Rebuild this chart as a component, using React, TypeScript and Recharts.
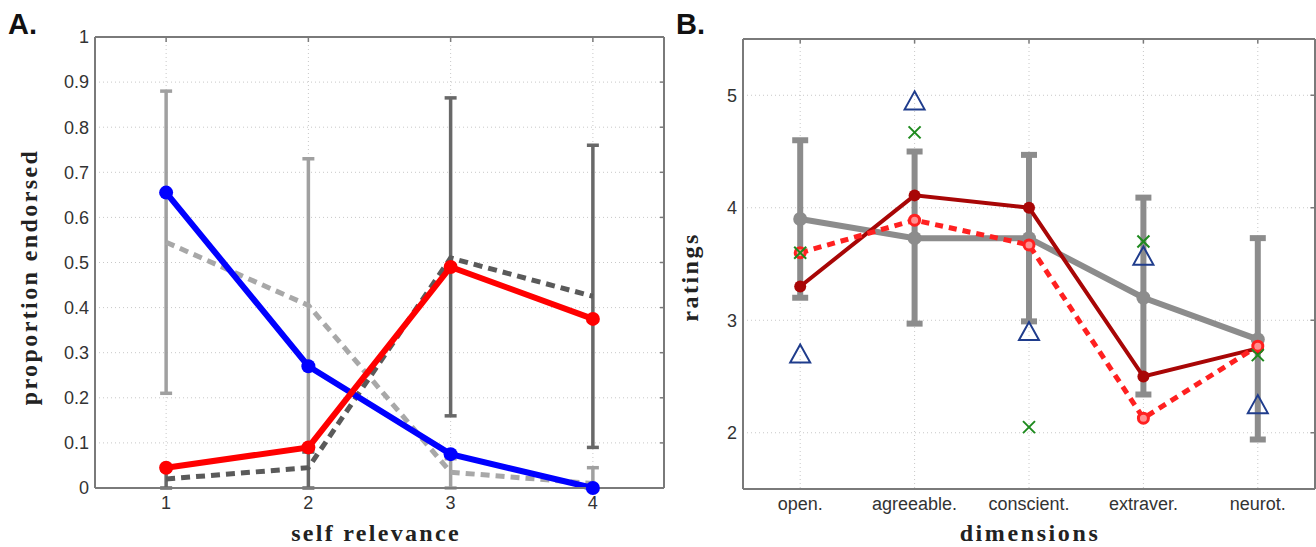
import React from 'react';
import { ComposedChart, Line, XAxis, YAxis, CartesianGrid, ErrorBar, ReferenceLine } from 'recharts';

// panel A: proportion endorsed by self relevance
const relevance = [1, 2, 3, 4];
const blueVals = [0.655, 0.27, 0.075, 0.0];
const redVals = [0.045, 0.09, 0.49, 0.375];
const lightDash = [0.545, 0.405, 0.035, 0.01];
const lightLow = [0.21, 0.08, 0, 0];
const lightHigh = [0.88, 0.73, 0.065, 0.045];
const darkDash = [0.02, 0.045, 0.51, 0.425];
const darkLow = [0, 0, 0.16, 0.09];
const darkHigh = [0.04, 0.08, 0.865, 0.76];
const ticksA = [0, 0.1, 0.2, 0.3, 0.4, 0.5, 0.6, 0.7, 0.8, 0.9, 1];

// panel B: ratings by dimension
const dims = ['open.', 'agreeable.', 'conscient.', 'extraver.', 'neurot.'];
const dimPos = [1, 2, 3, 4, 5];
const grayMean = [3.9, 3.73, 3.73, 3.2, 2.83];
const grayLow = [3.2, 2.97, 2.99, 2.34, 1.94];
const grayHigh = [4.6, 4.5, 4.47, 4.09, 3.73];
const darkRed = [3.3, 4.11, 4.0, 2.5, 2.75];
const redDash = [3.6, 3.89, 3.67, 2.13, 2.77];
const greenX = [3.6, 4.67, 2.05, 3.7, 2.69];
const blueTri = [2.7, 4.95, 2.9, 3.57, 2.25];
const ticksB = [2, 3, 4, 5];

const dataA = relevance.map((x, i) => ({
  x,
  blue: blueVals[i],
  red: redVals[i],
  light: lightDash[i],
  lightErr: [lightDash[i] - lightLow[i], lightHigh[i] - lightDash[i]],
  dark: darkDash[i],
  darkErr: [darkDash[i] - darkLow[i], darkHigh[i] - darkDash[i]],
}));

const dataB = dimPos.map((x, i) => ({
  x,
  gray: grayMean[i],
  grayErr: [grayMean[i] - grayLow[i], grayHigh[i] - grayMean[i]],
  darkRed: darkRed[i],
  redDash: redDash[i],
  green: greenX[i],
  tri: blueTri[i],
}));

const tickStyle = { fontFamily: 'Liberation Sans, Arial, sans-serif', fontSize: 18, fill: '#333' };
const titleFont = 'Liberation Serif, Times New Roman, serif';
const frame = '#7a7a7a';
const grid = '#c8c8c8';

const Cross = (props: any) => {
  const { cx, cy, index } = props;
  if (cx == null || cy == null) return null;
  const s = 6;
  return (
    <g key={`x-${index}`}>
      <line x1={cx - s} y1={cy - s} x2={cx + s} y2={cy + s} stroke="#1e8a1e" strokeWidth={2} />
      <line x1={cx - s} y1={cy + s} x2={cx + s} y2={cy - s} stroke="#1e8a1e" strokeWidth={2} />
    </g>
  );
};

const Triangle = (props: any) => {
  const { cx, cy, index } = props;
  if (cx == null || cy == null) return null;
  const w = 10;
  const h = 17;
  return (
    <polygon
      key={`t-${index}`}
      points={`${cx},${cy - h / 2 - 1} ${cx - w},${cy + h / 2} ${cx + w},${cy + h / 2}`}
      fill="none"
      stroke="#1f3c8c"
      strokeWidth={2}
    />
  );
};

// box around the plot, with short inward ticks on top and right
function frameLines(xTicks: number[], yTicks: number[], xMax: number, yMax: number, dx: number, dy: number) {
  return [
    <ReferenceLine key="top" y={yMax} stroke={frame} strokeWidth={2} />,
    <ReferenceLine key="right" x={xMax} stroke={frame} strokeWidth={2} />,
    ...xTicks.map((t) => (
      <ReferenceLine key={`tt${t}`} segment={[{ x: t, y: yMax }, { x: t, y: yMax - dy }]} stroke={frame} strokeWidth={1.5} />
    )),
    ...yTicks.map((t) => (
      <ReferenceLine key={`rt${t}`} segment={[{ x: xMax, y: t }, { x: xMax - dx, y: t }]} stroke={frame} strokeWidth={1.5} />
    )),
  ];
}

function PanelA() {
  return (
    <ComposedChart width={680} height={547} data={dataA} margin={{ top: 37, right: 16, bottom: 29, left: 35 }}>
      <CartesianGrid stroke={grid} strokeDasharray="1 3" />
      <XAxis
        dataKey="x"
        type="number"
        domain={[0.5, 4.5]}
        ticks={relevance}
        height={30}
        tick={tickStyle}
        tickSize={0}
        tickMargin={8}
        axisLine={{ stroke: frame, strokeWidth: 2 }}
      />
      <YAxis
        type="number"
        domain={[0, 1]}
        ticks={ticksA}
        width={60}
        tick={tickStyle}
        tickSize={0}
        tickMargin={6}
        axisLine={{ stroke: frame, strokeWidth: 2 }}
      />
      {frameLines(relevance, ticksA.slice(1, -1), 4.5, 1, 0.028, 0.011)}
      <Line dataKey="light" stroke="#a8a8a8" strokeWidth={5} strokeDasharray="9 6" dot={false} isAnimationActive={false}>
        <ErrorBar dataKey="lightErr" stroke="#a0a0a0" strokeWidth={3.5} width={6} />
      </Line>
      <Line dataKey="dark" stroke="#5a5a5a" strokeWidth={5} strokeDasharray="9 6" dot={false} isAnimationActive={false}>
        <ErrorBar dataKey="darkErr" stroke="#686868" strokeWidth={3.5} width={6} />
      </Line>
      <Line dataKey="blue" stroke="#0000ff" strokeWidth={6} dot={{ r: 7, fill: '#0000ff', stroke: '#0000ff', strokeWidth: 0 }} isAnimationActive={false} />
      <Line dataKey="red" stroke="#ff0000" strokeWidth={6} dot={{ r: 7, fill: '#ff0000', stroke: '#ff0000', strokeWidth: 0 }} isAnimationActive={false} />
    </ComposedChart>
  );
}

function PanelB() {
  return (
    <ComposedChart width={636} height={547} data={dataB} margin={{ top: 39, right: 1, bottom: 28, left: 23 }}>
      <CartesianGrid stroke={grid} strokeDasharray="1 3" />
      <XAxis
        dataKey="x"
        type="number"
        domain={[0.5, 5.5]}
        ticks={dimPos}
        tickFormatter={(v: number) => dims[v - 1]}
        height={30}
        tick={tickStyle}
        tickSize={0}
        tickMargin={8}
        axisLine={{ stroke: frame, strokeWidth: 2 }}
      />
      <YAxis
        type="number"
        domain={[1.5, 5.5]}
        ticks={ticksB}
        width={40}
        tick={tickStyle}
        tickSize={0}
        tickMargin={6}
        axisLine={{ stroke: frame, strokeWidth: 2 }}
      />
      {frameLines(dimPos, ticksB, 5.5, 5.5, 0.04, 0.04)}
      <Line dataKey="gray" stroke="#8c8c8c" strokeWidth={6} dot={{ r: 7, fill: '#8c8c8c', strokeWidth: 0 }} isAnimationActive={false}>
        <ErrorBar dataKey="grayErr" stroke="#8c8c8c" strokeWidth={6} width={8} />
      </Line>
      <Line dataKey="darkRed" stroke="#a80606" strokeWidth={4} dot={{ r: 6, fill: '#a80606', strokeWidth: 0 }} isAnimationActive={false} />
      <Line dataKey="redDash" stroke="#ff2020" strokeWidth={5} strokeDasharray="8 6" dot={{ r: 5, fill: '#ff9090', stroke: '#ff2020', strokeWidth: 3, strokeDasharray: '' }} isAnimationActive={false} />
      <Line dataKey="green" stroke="none" dot={<Cross />} activeDot={false} isAnimationActive={false} />
      <Line dataKey="tri" stroke="none" dot={<Triangle />} activeDot={false} isAnimationActive={false} />
    </ComposedChart>
  );
}

export default function App() {
  return (
    <div style={{ position: 'absolute', left: 0, top: 0, width: 1316, height: 547, background: '#fff' }}>
      <div style={{ position: 'absolute', left: 0, top: 0 }}>
        <PanelA />
      </div>
      <div style={{ position: 'absolute', left: 680, top: 0 }}>
        <PanelB />
      </div>
      <svg width={1316} height={547} style={{ position: 'absolute', left: 0, top: 0, pointerEvents: 'none' }}>
        <text x={8} y={34} fontFamily="Liberation Sans, Arial, sans-serif" fontWeight="bold" fontSize={29} fill="#111">A.</text>
        <text x={676} y={34} fontFamily="Liberation Sans, Arial, sans-serif" fontWeight="bold" fontSize={29} fill="#111">B.</text>
        <text x={376} y={541} textAnchor="middle" fontFamily={titleFont} fontWeight="bold" fontSize={24} letterSpacing={2.3} fill="#222">self relevance</text>
        <text x={1030} y={541} textAnchor="middle" fontFamily={titleFont} fontWeight="bold" fontSize={24} letterSpacing={2.6} fill="#222">dimensions</text>
        <text transform="translate(37,277) rotate(-90)" textAnchor="middle" fontFamily={titleFont} fontWeight="bold" fontSize={24} letterSpacing={2.4} fill="#222">proportion endorsed</text>
        <text transform="translate(698,277) rotate(-90)" textAnchor="middle" fontFamily={titleFont} fontWeight="bold" fontSize={24} letterSpacing={2.5} fill="#222">ratings</text>
      </svg>
    </div>
  );
}
